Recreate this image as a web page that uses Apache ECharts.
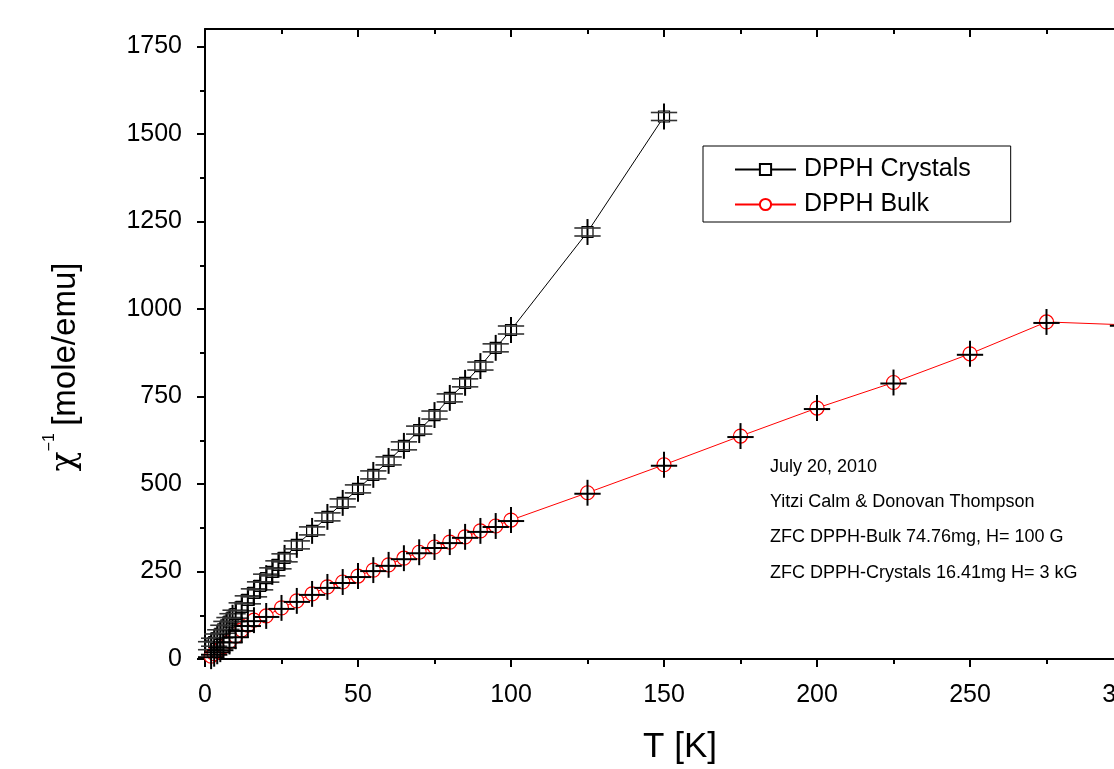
<!DOCTYPE html>
<html>
<head>
<meta charset="utf-8">
<script src="https://cdn.jsdelivr.net/npm/echarts@6/dist/echarts.min.js"></script>
<style>
html,body{margin:0;padding:0;background:#fff;}
#chart{width:1114px;height:769px;}
</style>
</head>
<body>
<div id="chart"></div>
<script>
/* data */
var crystalT = [2,3,4,5,6,7,8,9,10,12,14,16,18,20,22,24,26,30,35,40,45,50,55,60,65,70,75,80,85,90,95,100,125,150];
var crystalChi = [38,48,60,72,85,96,107,118,128,149,169,189,209,231,249,269,289,326,366,406,446,486,526,566,609,654,697,746,789,837,889,940,1220,1550];
var bulkT = [2,3,4,5,6,8,10,12,14,16,20,25,30,35,40,45,50,55,60,65,70,75,80,85,90,95,100,125,150,175,200,225,250,275,300];
var bulkChi = [8,15,22,28,35,50,65,83,97,111,123,146,166,186,206,220,237,254,269,288,305,320,334,349,366,380,397,475,555,637,717,790,872,963,955];
var errT = 4.3;    // K
var errChi = 37;   // mole/emu
var xMajor = [0,50,100,150,200,250,300];
var xMinor = [25,75,125,175,225,275];
var yMajor = [0,250,500,750,1000,1250,1500,1750];
var yMinor = [125,375,625,875,1125,1375,1625];
var notes = ['July 20, 2010','Yitzi Calm & Donovan Thompson','ZFC DPPH-Bulk 74.76mg, H= 100 G','ZFC DPPH-Crystals 16.41mg H= 3 kG'];

var font = 'Liberation Sans, Arial, sans-serif';

function pairs(xs, ys){
	var out = [];
	for (var i = 0; i < xs.length; i++) out.push([xs[i], ys[i]]);
	return out;
}

function plain(v){ return String(v); }

function errBars(double){
	return function(params, api){
		var t = api.value(0), c = api.value(1);
		var p = api.coord([t, c]);
		var top = api.coord([t, c + errChi]);
		var bot = api.coord([t, c - errChi]);
		var l = api.coord([t - errT, c])[0];
		var r = api.coord([t + errT, c])[0];
		var kids = [{
			type:'line',
			shape:{x1:p[0],y1:top[1],x2:p[0],y2:bot[1]},
			style:{stroke:'#000',lineWidth:2}
		}];
		if (double) {
			kids.push({type:'line',shape:{x1:l,y1:p[1]-4,x2:r,y2:p[1]-4},style:{stroke:'#333',lineWidth:1.6}});
			kids.push({type:'line',shape:{x1:l,y1:p[1]+4,x2:r,y2:p[1]+4},style:{stroke:'#333',lineWidth:1.6}});
		} else {
			kids.push({type:'line',shape:{x1:l,y1:p[1]+1,x2:r,y2:p[1]+1},style:{stroke:'#000',lineWidth:2}});
		}
		return {type:'group',children:kids};
	};
}

var axisLine = {show:true,lineStyle:{color:'#000',width:2}};

var myChart = echarts.init(document.getElementById('chart'));
var option = {
	backgroundColor:'#fff',
	animation:false,
	grid:{left:205,top:29,width:918,height:630,containLabel:false,outerBoundsMode:'none'},
	legend:{
		data:['DPPH Crystals','DPPH Bulk'],
		orient:'vertical',
		left:703,
		top:146,
		itemWidth:61,
		itemHeight:14,
		itemGap:10,
		padding:[11,40,5,31],
		borderColor:'#000',
		borderWidth:1,
		textStyle:{fontFamily:font,fontSize:25,color:'#000',lineHeight:25,padding:[0,0,0,3]}
	},
	xAxis:[
		{type:'value',position:'bottom',min:0,max:300,
			axisLine:axisLine,splitLine:{show:false},
			axisTick:{show:true,inside:false,length:8,lineStyle:{color:'#000',width:2},customValues:xMajor},
			axisLabel:{show:true,margin:24,fontFamily:font,fontSize:25,color:'#000',customValues:xMajor,formatter:plain}},
		{type:'value',position:'bottom',min:0,max:300,
			axisLine:{show:false},splitLine:{show:false},
			axisTick:{show:true,inside:false,length:5,lineStyle:{color:'#000',width:2},customValues:xMinor},
			axisLabel:{show:false,customValues:xMinor}},
		{type:'value',position:'top',min:0,max:300,
			axisLine:axisLine,splitLine:{show:false},
			axisTick:{show:true,inside:true,length:8,lineStyle:{color:'#000',width:2},customValues:xMajor},
			axisLabel:{show:false,customValues:xMajor}},
		{type:'value',position:'top',min:0,max:300,
			axisLine:{show:false},splitLine:{show:false},
			axisTick:{show:true,inside:true,length:5,lineStyle:{color:'#000',width:2},customValues:xMinor},
			axisLabel:{show:false,customValues:xMinor}}
	],
	yAxis:[
		{type:'value',position:'left',min:0,max:1800,
			axisLine:axisLine,splitLine:{show:false},
			axisTick:{show:true,inside:false,length:8,lineStyle:{color:'#000',width:2},customValues:yMajor},
			axisLabel:{show:true,margin:23,fontFamily:font,fontSize:25,color:'#000',customValues:yMajor,formatter:plain}},
		{type:'value',position:'left',min:0,max:1800,
			axisLine:{show:false},splitLine:{show:false},
			axisTick:{show:true,inside:false,length:5,lineStyle:{color:'#000',width:2},customValues:yMinor},
			axisLabel:{show:false,customValues:yMinor}}
	],
	graphic:[
		{type:'text',x:680,y:747,style:{text:'T [K]',fontFamily:font,fontSize:35,fill:'#000',align:'center',verticalAlign:'middle'}},
		{type:'text',x:62,y:367,rotation:Math.PI/2,
			style:{text:'{g|χ}{s|−1} {c|[mole/emu]}',align:'center',verticalAlign:'middle',fill:'#000',
				rich:{
					g:{fontFamily:'DejaVu Serif, serif',fontSize:33,fill:'#000',lineHeight:40,verticalAlign:'bottom'},
					c:{fontFamily:font,fontSize:33,fill:'#000',lineHeight:40,verticalAlign:'bottom'},
					s:{fontFamily:font,fontSize:16,fill:'#000',verticalAlign:'top',lineHeight:40,padding:[0,4,0,0]}
				}}},
		{type:'text',x:770,y:467,style:{text:notes[0],fontFamily:font,fontSize:18,fill:'#000',verticalAlign:'middle'}},
		{type:'text',x:770,y:502,style:{text:notes[1],fontFamily:font,fontSize:18,fill:'#000',verticalAlign:'middle'}},
		{type:'text',x:770,y:537,style:{text:notes[2],fontFamily:font,fontSize:18,fill:'#000',verticalAlign:'middle'}},
		{type:'text',x:770,y:573,style:{text:notes[3],fontFamily:font,fontSize:18,fill:'#000',verticalAlign:'middle'}}
	],
	series:[
		{
			name:'DPPH Crystals',
			type:'line',
			data:pairs(crystalT, crystalChi),
			symbol:'rect',
			symbolSize:11,
			lineStyle:{color:'#000',width:1},
			itemStyle:{color:'#fff',borderColor:'#000',borderWidth:1.2},
			z:2
		},
		{
			name:'DPPH Bulk',
			type:'line',
			data:pairs(bulkT, bulkChi),
			symbol:'circle',
			symbolSize:14,
			lineStyle:{color:'#ff0000',width:1},
			itemStyle:{color:'#fff',borderColor:'#ff0000',borderWidth:1.2},
			z:2
		},
		{
			type:'custom',
			data:pairs(crystalT, crystalChi),
			renderItem:errBars(true),
			z:3,
			silent:true
		},
		{
			type:'custom',
			data:pairs(bulkT, bulkChi),
			renderItem:errBars(false),
			z:3,
			silent:true
		}
	]
};
myChart.setOption(option);
</script>
</body>
</html>
